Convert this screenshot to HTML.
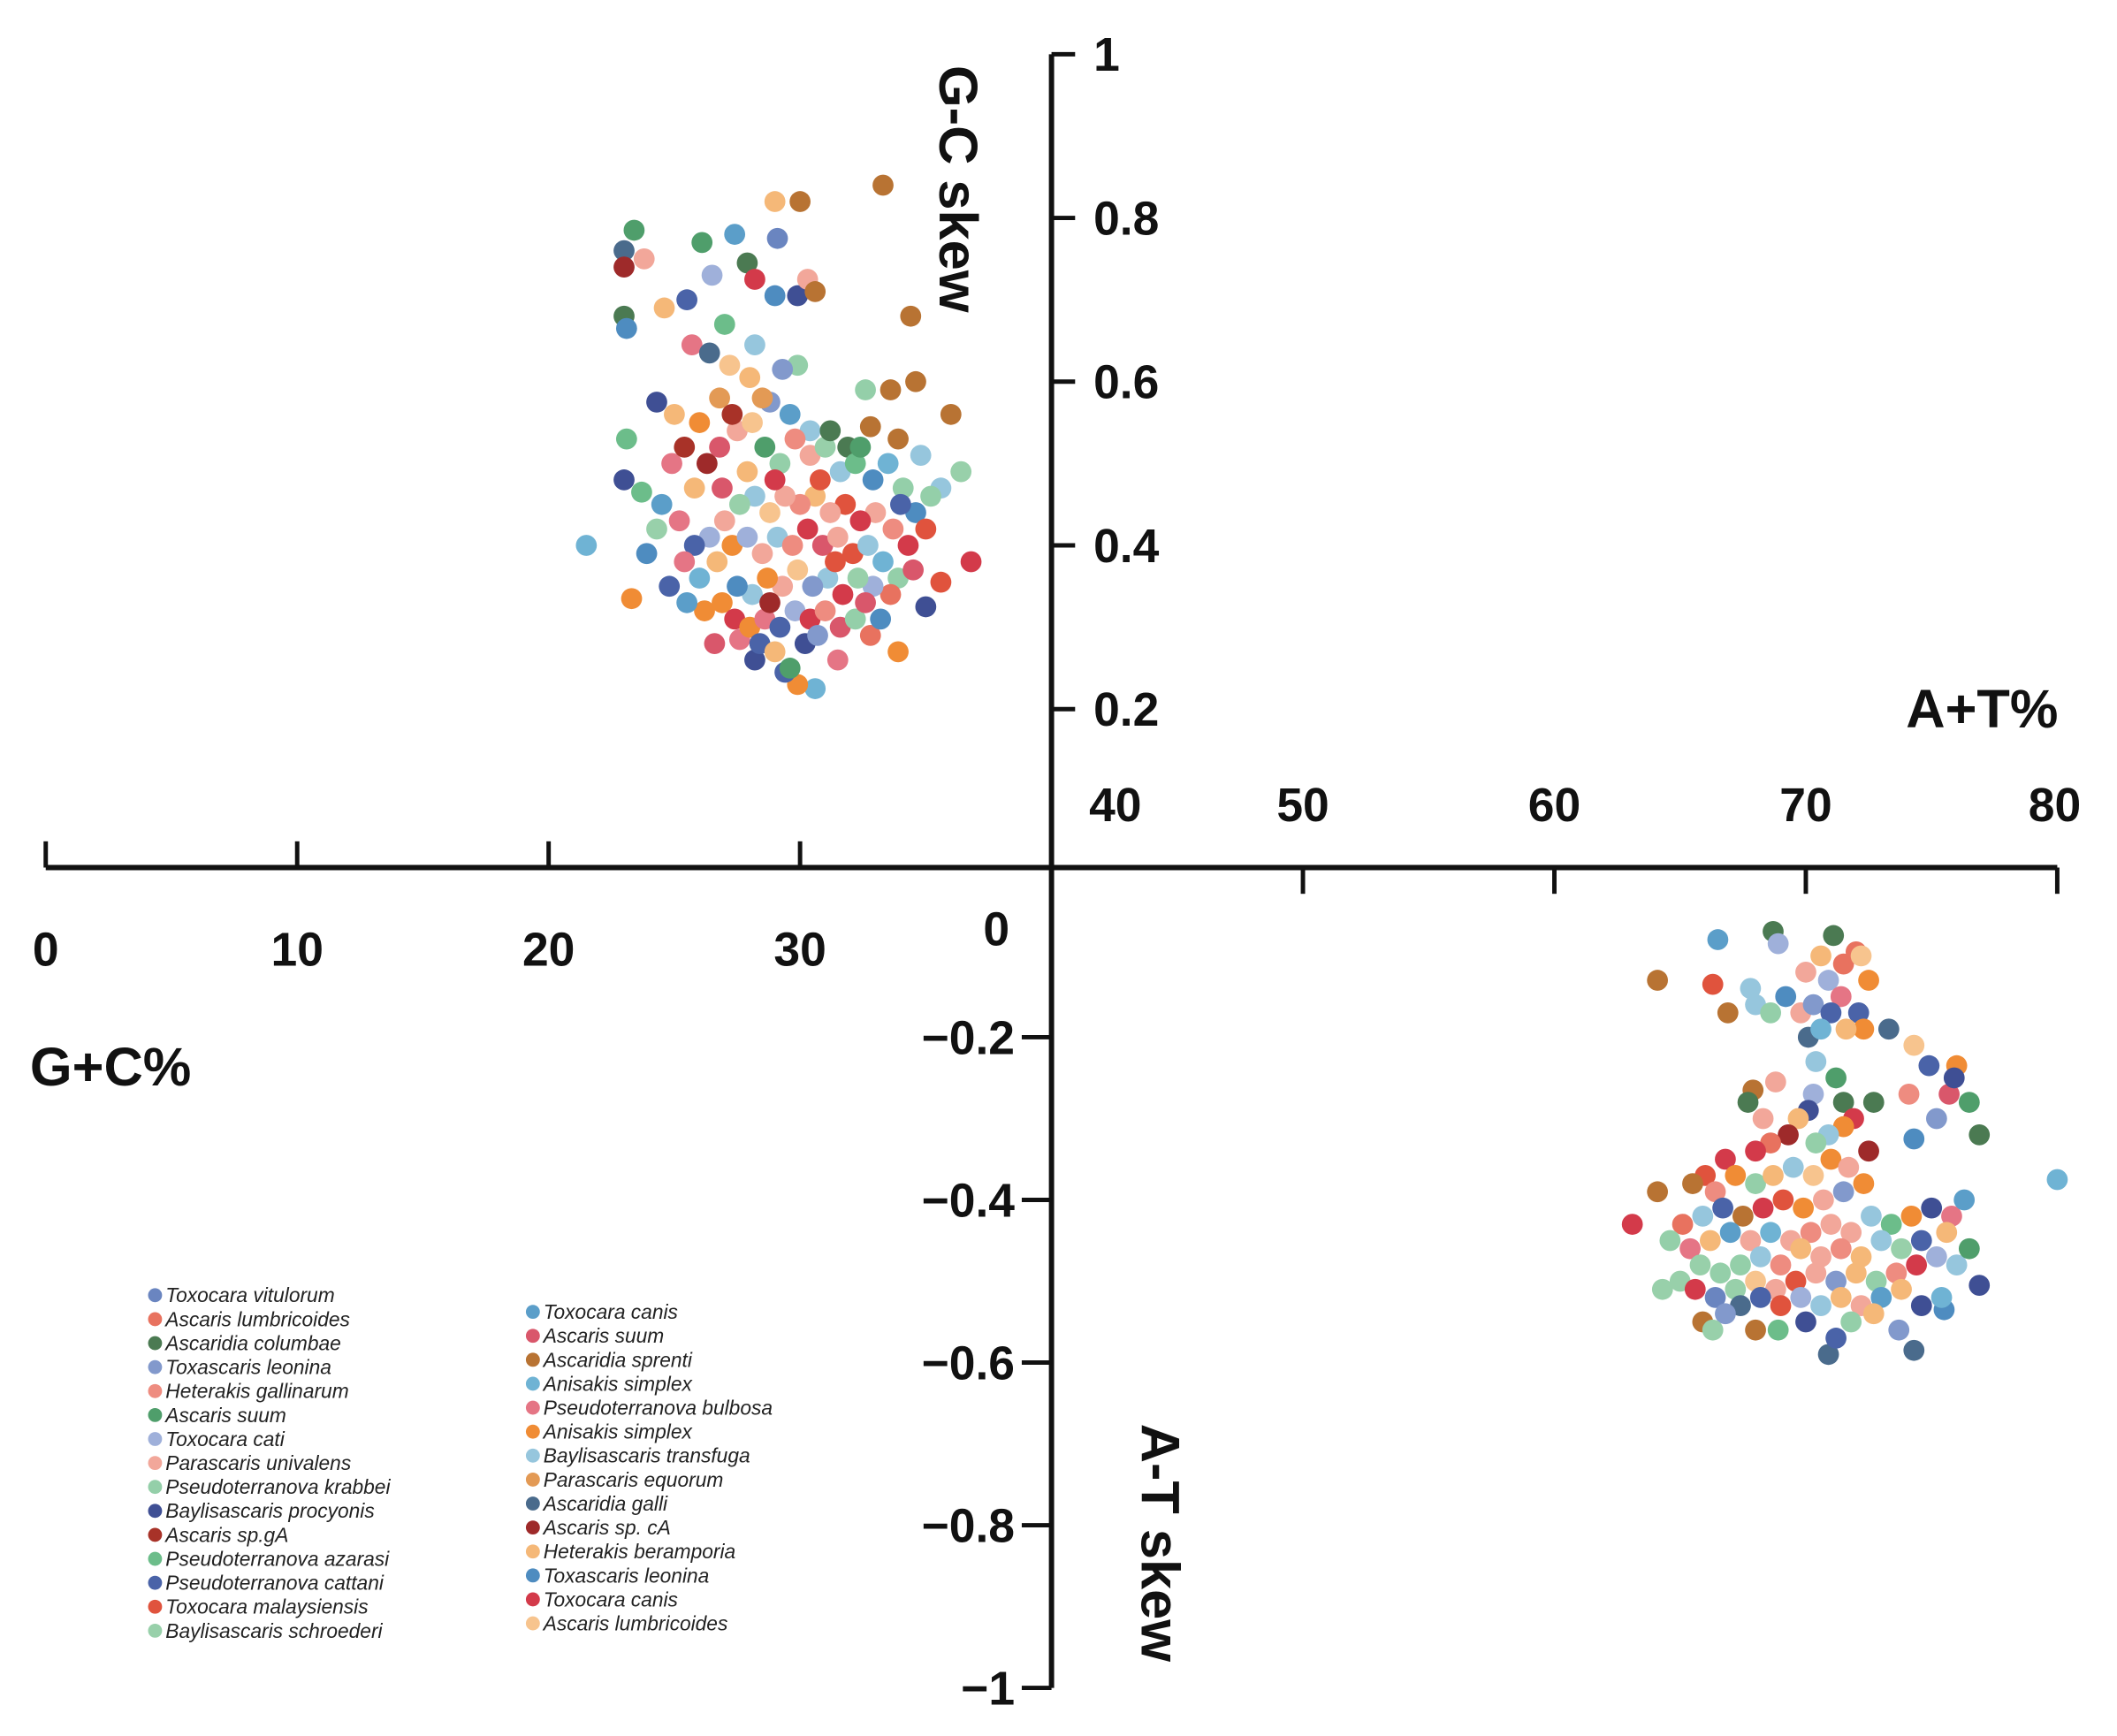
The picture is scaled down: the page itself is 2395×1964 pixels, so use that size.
<!DOCTYPE html>
<html><head><meta charset="utf-8"><style>
html,body{margin:0;padding:0;background:#fff;}
svg{display:block;}
text{font-family:"Liberation Sans",Arial,sans-serif;}
.tk{font-size:54px;font-weight:bold;fill:#111;}
.ttl{font-size:62px;font-weight:bold;fill:#111;}
.lg{font-size:23px;font-style:italic;fill:#222;}
</style></head><body>
<svg id="chart" width="2395" height="1964" viewBox="0 0 2420 1985"></svg>
<script>
const upperTicks=[0.2,0.4,0.6,0.8,1];
const upperTickLabels=["0.2","0.4","0.6","0.8","1"];
const lowerTicks=[-0.2,-0.4,-0.6,-0.8,-1];
const lowerTickLabels=["\u22120.2","\u22120.4","\u22120.6","\u22120.8","\u22121"];
const gcTicks=[0,10,20,30];
const atTicks=[40,50,60,70,80];
const speciesNames=["Toxocara vitulorum","Ascaris lumbricoides","Ascaridia columbae","Toxascaris leonina","Heterakis gallinarum","Ascaris suum","Toxocara cati","Parascaris univalens","Pseudoterranova krabbei","Baylisascaris procyonis","Ascaris sp.gA","Pseudoterranova azarasi","Pseudoterranova cattani","Toxocara malaysiensis","Baylisascaris schroederi","Toxocara canis","Ascaris suum","Ascaridia sprenti","Anisakis simplex","Pseudoterranova bulbosa","Anisakis simplex","Baylisascaris transfuga","Parascaris equorum","Ascaridia galli","Ascaris sp. cA","Heterakis beramporia","Toxascaris leonina","Toxocara canis","Ascaris lumbricoides"];
const speciesColors=["#6a85c0","#e8725f","#4b7a52","#8299cc","#ee8c80","#4f9e6b","#9fb0da","#f2a79a","#94cfa9","#3f4f94","#a83228","#6cbd8a","#4a63a8","#e0533d","#98d0aa","#5b9ec9","#d9576b","#b87333","#6fb3d4","#e57585","#f08c35","#96c6dd","#e39a55","#4a6b8c","#9e2a2a","#f5b878","#4e8cc0","#d33a4a","#f7c48e"];
// upper panel: [G+C%, GC skew, species]
const gcPoints=[[33.3,0.84,17],[30.0,0.82,17],[29.0,0.82,25],[29.1,0.775,0],[27.4,0.78,15],[23.4,0.785,5],[23.0,0.76,23],[23.8,0.75,7],[23.0,0.74,24],[26.1,0.77,5],[27.9,0.745,2],[26.5,0.73,6],[28.2,0.725,27],[29.0,0.705,26],[29.9,0.705,9],[30.3,0.725,7],[30.6,0.71,17],[23.0,0.68,2],[23.1,0.665,26],[24.6,0.69,25],[25.5,0.70,12],[27.0,0.67,11],[28.2,0.645,21],[29.9,0.62,8],[29.3,0.615,3],[34.4,0.68,17],[25.7,0.645,19],[26.4,0.635,23],[27.2,0.62,28],[28.0,0.605,25],[34.6,0.6,17],[33.6,0.59,17],[32.6,0.59,8],[36.0,0.56,17],[32.8,0.545,17],[24.3,0.575,9],[25.0,0.56,25],[28.8,0.575,3],[30.4,0.54,21],[31.9,0.52,2],[23.1,0.53,11],[23.0,0.48,9],[23.7,0.465,11],[36.4,0.49,14],[35.6,0.47,21],[21.5,0.40,18],[23.3,0.335,20],[23.9,0.39,26],[36.8,0.38,27],[35.6,0.355,13],[35.0,0.325,9],[33.9,0.27,20],[30.6,0.225,18],[29.9,0.23,20],[29.4,0.245,12],[27.6,0.285,19],[28.2,0.26,9],[31.5,0.26,19],
[24.5,0.45,15],[25.2,0.43,19],[25.8,0.47,25],[26.3,0.50,24],[26.8,0.52,16],[27.5,0.54,7],[28.1,0.55,28],[28.6,0.52,5],[29.2,0.50,8],[29.8,0.53,4],[30.4,0.51,7],[31.0,0.52,14],[31.6,0.49,21],[32.2,0.50,11],[32.9,0.48,26],[33.5,0.50,18],[34.1,0.47,8],[34.6,0.44,26],[35.0,0.42,13],[34.3,0.40,27],[33.7,0.42,4],[33.0,0.44,7],[32.4,0.43,27],[31.8,0.45,13],[31.2,0.44,7],[30.6,0.46,25],[30.0,0.45,4],[29.4,0.46,7],[28.8,0.44,28],[28.2,0.46,21],[27.6,0.45,14],[27.0,0.43,7],[26.4,0.41,6],[25.8,0.40,12],[25.4,0.38,19],[26.0,0.36,18],[26.7,0.38,25],[27.3,0.40,20],[27.9,0.41,6],[28.5,0.39,7],[29.1,0.41,21],[29.7,0.40,4],[30.3,0.42,27],[30.9,0.40,16],[31.5,0.41,7],[32.1,0.39,13],[32.7,0.40,21],[33.3,0.38,18],[33.9,0.36,8],[34.5,0.37,16],[33.6,0.34,1],[32.9,0.35,6],[32.3,0.36,14],[31.7,0.34,27],[31.1,0.36,21],[30.5,0.35,3],[29.9,0.37,28],[29.3,0.35,7],[28.7,0.36,20],[28.1,0.34,21],[27.5,0.35,26],[26.9,0.33,20],[27.4,0.31,27],[28.0,0.30,20],[28.6,0.31,19],[29.2,0.30,12],[29.8,0.32,6],[30.4,0.31,27],[31.0,0.32,4],[31.6,0.30,16],[32.2,0.31,8],[32.8,0.29,1],[28.4,0.28,12],[29.0,0.27,25],[30.2,0.28,9],[29.6,0.25,5],[26.2,0.32,20],[26.6,0.28,16],[25.5,0.33,15],[24.8,0.35,12],[24.3,0.42,14],[24.9,0.50,19],[25.4,0.52,10],[26.0,0.55,20],[26.8,0.58,22],[27.3,0.56,10],[28.5,0.58,22],[29.6,0.56,15],[31.2,0.54,2],[32.4,0.52,5],[33.9,0.53,17],[34.8,0.51,21],[35.2,0.46,8],[34.0,0.45,12],[30.8,0.48,13],[29.0,0.48,27],[27.9,0.49,25],[26.9,0.47,16],[31.4,0.38,13],[32.6,0.33,16],[33.2,0.31,26],[30.7,0.29,3],[28.8,0.33,24]];
// lower panel: [A+T%, AT skew, species]
const atPoints=[[68.7,-0.07,2],[71.1,-0.075,2],[66.5,-0.08,15],[64.1,-0.13,17],[66.3,-0.135,13],[66.9,-0.17,17],[68.0,-0.16,21],[72.0,-0.095,1],[73.3,-0.19,23],[74.3,-0.21,28],[74.9,-0.235,12],[76.0,-0.235,20],[76.5,-0.28,5],[76.9,-0.32,2],[74.3,-0.325,26],[72.7,-0.28,2],[70.4,-0.23,21],[80.0,-0.375,18],[64.1,-0.39,17],[63.1,-0.43,27],[64.3,-0.51,14],[74.3,-0.585,23],[70.9,-0.59,23],[68.0,-0.56,17],[76.9,-0.505,9],[75.5,-0.535,26],[67.9,-0.265,17],[68.8,-0.255,7],[70.1,-0.2,23],
[68.9,-0.085,6],[70.6,-0.10,25],[71.5,-0.11,1],[72.2,-0.10,28],[72.5,-0.13,20],[70.0,-0.12,7],[70.9,-0.13,6],[71.4,-0.15,19],[69.2,-0.15,26],[69.8,-0.17,7],[70.3,-0.16,3],[71.0,-0.17,12],[72.1,-0.17,12],[72.3,-0.19,20],[71.6,-0.19,25],[70.6,-0.19,18],[68.6,-0.17,8],[67.8,-0.14,21],[74.1,-0.27,4],[75.7,-0.27,16],[75.9,-0.25,9],[75.2,-0.30,3],[71.2,-0.25,5],[71.5,-0.28,2],[70.3,-0.27,6],[70.1,-0.29,9],[69.7,-0.30,25],[68.3,-0.30,7],[67.7,-0.28,2],[71.9,-0.30,27],[71.5,-0.31,20],[70.9,-0.32,21],[70.4,-0.33,8],[69.3,-0.32,24],[68.6,-0.33,1],[68.0,-0.34,27],[66.8,-0.35,27],[66.0,-0.37,13],[65.5,-0.38,17],[66.4,-0.39,4],[67.2,-0.37,20],[68.0,-0.38,8],[68.7,-0.37,25],[69.5,-0.36,21],[70.3,-0.37,28],[71.0,-0.35,20],[71.7,-0.36,7],[72.5,-0.34,24],[72.3,-0.38,20],[71.5,-0.39,3],[70.7,-0.40,7],[69.9,-0.41,20],[69.1,-0.40,13],[68.3,-0.41,27],[67.5,-0.42,17],[66.7,-0.41,12],[65.9,-0.42,21],[65.1,-0.43,1],[64.6,-0.45,8],[65.4,-0.46,19],[66.2,-0.45,25],[67.0,-0.44,15],[67.8,-0.45,7],[68.6,-0.44,18],[69.4,-0.45,7],[70.2,-0.44,4],[71.0,-0.43,7],[71.8,-0.44,7],[72.6,-0.42,21],[73.4,-0.43,11],[74.2,-0.42,20],[75.0,-0.41,9],[75.8,-0.42,19],[76.3,-0.40,15],[75.6,-0.44,25],[74.6,-0.45,12],[73.8,-0.46,14],[73.0,-0.45,21],[72.2,-0.47,25],[71.4,-0.46,4],[70.6,-0.47,7],[69.8,-0.46,25],[69.0,-0.48,4],[68.2,-0.47,21],[67.4,-0.48,8],[66.6,-0.49,8],[65.8,-0.48,14],[65.0,-0.50,14],[65.6,-0.51,27],[66.4,-0.52,0],[67.2,-0.51,14],[68.0,-0.50,28],[68.8,-0.51,7],[69.6,-0.50,13],[70.4,-0.49,7],[71.2,-0.50,3],[72.0,-0.49,25],[72.8,-0.50,8],[73.6,-0.49,4],[74.4,-0.48,27],[75.2,-0.47,6],[76.0,-0.48,21],[76.5,-0.46,5],[75.4,-0.52,18],[74.6,-0.53,9],[73.8,-0.51,25],[73.0,-0.52,15],[72.2,-0.53,7],[71.4,-0.52,25],[70.6,-0.53,21],[69.8,-0.52,6],[69.0,-0.53,13],[68.2,-0.52,12],[67.4,-0.53,23],[66.8,-0.54,3],[65.9,-0.55,17],[66.3,-0.56,14],[68.9,-0.56,11],[70.0,-0.55,9],[71.8,-0.55,8],[72.7,-0.54,25],[73.7,-0.56,3],[71.2,-0.57,12]];
const NS="http://www.w3.org/2000/svg";
const svg=document.getElementById('chart');
function el(tag,attrs,parent){const e=document.createElementNS(NS,tag);for(const k in attrs)e.setAttribute(k,attrs[k]);(parent||svg).appendChild(e);return e;}
const AXX=1202, AXY=992;
function yU(v){return 998-v*936;}
function yL(v){return 1000-v*930;}
function xGC(v){return 52+v*28.75;}
function xAT(v){return 1202+(v-40)*28.75;}
const R=12;
const gU=el('g',{});


gcPoints.forEach(p=>{
  const c=el('circle',{cx:xGC(p[0]),cy:yU(p[1]),r:R,fill:speciesColors[p[2]]},gU);
  
  
});
const gL=el('g',{});


atPoints.forEach(p=>{
  const c=el('circle',{cx:xAT(p[0]),cy:yL(p[1]),r:R,fill:speciesColors[p[2]]},gL);
  
  
});
const va=el('line',{x1:AXX,y1:yU(1),x2:AXX,y2:yL(-1),stroke:'#111','stroke-width':6});


const ha=el('line',{x1:xGC(0),y1:AXY,x2:xAT(80),y2:AXY,stroke:'#111','stroke-width':6});


upperTicks.forEach((v,i)=>{
  el('line',{x1:AXX,y1:yU(v),x2:AXX+27,y2:yU(v),stroke:'#111','stroke-width':5});
  const t=el('text',{x:AXX+48,y:yU(v)+19,class:'tk'});t.textContent=upperTickLabels[i];
  
  
});
lowerTicks.forEach((v,i)=>{
  el('line',{x1:AXX-34,y1:yL(v),x2:AXX,y2:yL(v),stroke:'#111','stroke-width':5});
  const t=el('text',{x:1160,y:yL(v)+19,class:'tk','text-anchor':'end'});t.textContent=lowerTickLabels[i];
  
  
});
const z=el('text',{x:1139,y:1081,class:'tk','text-anchor':'middle'});z.textContent='0';


gcTicks.forEach(v=>{
  el('line',{x1:xGC(v),y1:AXY,x2:xGC(v),y2:AXY-30,stroke:'#111','stroke-width':5});
  const t=el('text',{x:xGC(v),y:1104,class:'tk','text-anchor':'middle'});t.textContent=v;
  
  
});
atTicks.forEach(v=>{
  if(v>40) el('line',{x1:xAT(v),y1:AXY,x2:xAT(v),y2:AXY+30,stroke:'#111','stroke-width':5});
  const x=v===40?1275:(v===80?2349:xAT(v));
  const t=el('text',{x:x,y:939,class:'tk','text-anchor':'middle'});t.textContent=v;
  
  
});
function title(txt,attrs,name){const t=el('text',attrs);t.textContent=txt;return t;}
title('A+T%',{x:2353,y:832,class:'ttl','text-anchor':'end'},'x-axis-title-at');
title('G+C%',{x:34,y:1241,class:'ttl'},'x-axis-title-gc');
title('G-C skew',{x:0,y:0,class:'ttl','text-anchor':'middle',transform:'translate(1074,216) rotate(90)'},'y-axis-title-gc-skew');
title('A-T skew',{x:0,y:0,class:'ttl','text-anchor':'middle',transform:'translate(1305,1764) rotate(90)'},'y-axis-title-at-skew');
const lg=el('g',{});


speciesNames.forEach((n,i)=>{
  const col=i<15?0:1, row=i<15?i:i-15;
  const x=col?609:177, y=(col?1500:1481)+row*27.4;
  const g=el('g',{},lg);
  
  
  el('circle',{cx:x,cy:y,r:8,fill:speciesColors[i]},g);
  const t=el('text',{x:x+12,y:y+8,class:'lg'},g);t.textContent=n;
});
</script>
</body></html>
